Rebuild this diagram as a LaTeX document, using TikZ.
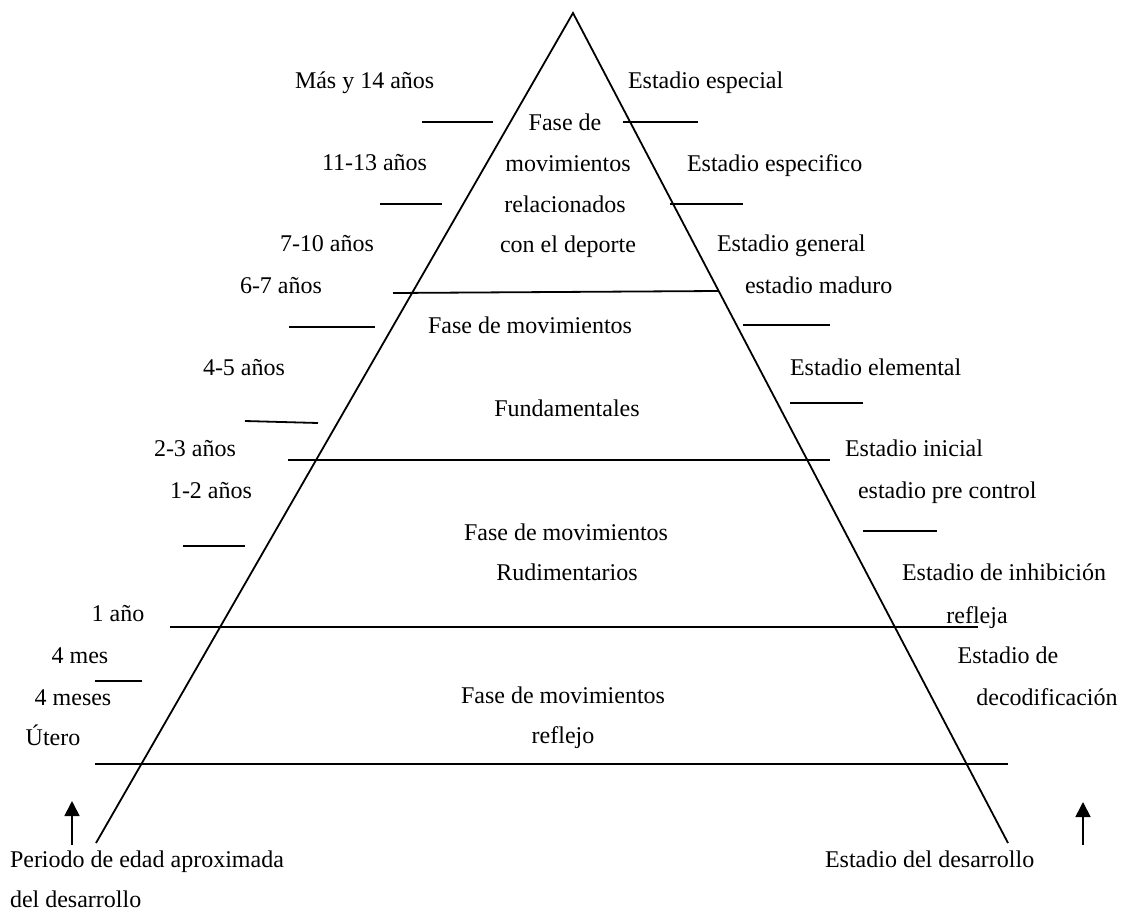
\documentclass[tikz,border=0pt]{standalone}
\usepackage{fontspec}
\setmainfont{Liberation Serif}
\usetikzlibrary{arrows.meta}
\tikzset{
  lbl/.style={inner sep=0pt, outer sep=0pt, font=\fontsize{24}{28}\selectfont},
  lw/.style={lbl, anchor=base west},
  lc/.style={lbl, anchor=base},
  ln/.style={line width=1.8pt},
  uparrow/.style={line width=1.8pt, -{Triangle[length=15pt,width=15pt]}}
}
\begin{document}
\begin{tikzpicture}[x=1pt,y=-1pt]
\useasboundingbox (0,0) rectangle (1128,913);
% triangle
\coordinate (apex) at (573,13);
\coordinate (bl) at (96,843);
\coordinate (br) at (1008,843);
\draw[ln, line join=miter] (bl) -- (apex) -- (br);
% long horizontal lines
\draw[ln] (393,293) -- (718,291);
\draw[ln] (288,460) -- (830,460);
\draw[ln] (170,627) -- (978,627);
\draw[ln] (95,764) -- (1008,764);
% short left ticks
\draw[ln] (422,122) -- (493,122);
\draw[ln] (380,204) -- (442,204);
\draw[ln] (289,327) -- (375,327);
\draw[ln] (245,421) -- (318,423);
\draw[ln] (183,546) -- (245,546);
\draw[ln] (95,681) -- (142,681);
% short right ticks
\draw[ln] (623,122) -- (698,122);
\draw[ln] (670,204) -- (743,204);
\draw[ln] (743,325) -- (830,325);
\draw[ln] (790,403) -- (863,403);
\draw[ln] (863,531) -- (937,531);
% arrows
\coordinate (la0) at (72,845);
\coordinate (la1) at (72,801);
\coordinate (ra0) at (1083,845);
\coordinate (ra1) at (1083,802);
\draw[uparrow] (la0) -- (la1);
\draw[uparrow] (ra0) -- (ra1);
% left labels
\node[lw] (l1) at (295,88) {Más y 14 años};
\node[lw] (l2) at (322,170) {11-13 años};
\node[lw] (l3) at (280,251) {7-10 años};
\node[lw] (l4) at (240,293) {6-7 años};
\node[lw] (l5) at (203,375) {4-5 años};
\node[lw] (l6) at (154,456) {2-3 años};
\node[lw] (l7) at (170,498) {1-2 años};
\node[lc] (l8) at (118,621) {1 año};
\node[lc] (l9) at (80,663) {4 mes};
\node[lc] (l10) at (73,705) {4 meses};
\node[lc] (l11) at (53,745) {Útero};
\node[lw] (l12) at (10,867) {Periodo de edad aproximada};
\node[lw] (l13) at (10,907) {del desarrollo};
% right labels
\node[lw] (r1) at (628,88) {Estadio especial};
\node[lw] (r2) at (687,171) {Estadio especifico};
\node[lw] (r3) at (717,251) {Estadio general};
\node[lw] (r4) at (745,293) {estadio maduro};
\node[lw] (r5) at (790,375) {Estadio elemental};
\node[lw] (r6) at (845,456) {Estadio inicial};
\node[lw] (r7) at (858,498) {estadio pre control};
\node[lw] (r8) at (902,580) {Estadio de inhibición};
\node[lc] (r9) at (977,623) {refleja};
\node[lc] (r10) at (1008,663) {Estadio de};
\node[lc] (r11) at (1047,705) {decodificación};
\node[lw] (r12) at (825,867) {Estadio del desarrollo};
% centre labels
\node[lc] (c1) at (565,130) {Fase de};
\node[lc] (c2) at (568,171) {movimientos};
\node[lc] (c3) at (565,212) {relacionados};
\node[lc] (c4) at (568,252) {con el deporte};
\node[lc] (c5) at (530,333) {Fase de movimientos};
\node[lc] (c6) at (567,416) {Fundamentales};
\node[lc] (c7) at (566,540) {Fase de movimientos};
\node[lc] (c8) at (567,580) {Rudimentarios};
\node[lc] (c9) at (563,703) {Fase de movimientos};
\node[lc] (c10) at (563,743) {reflejo};
\end{tikzpicture}
\end{document}
